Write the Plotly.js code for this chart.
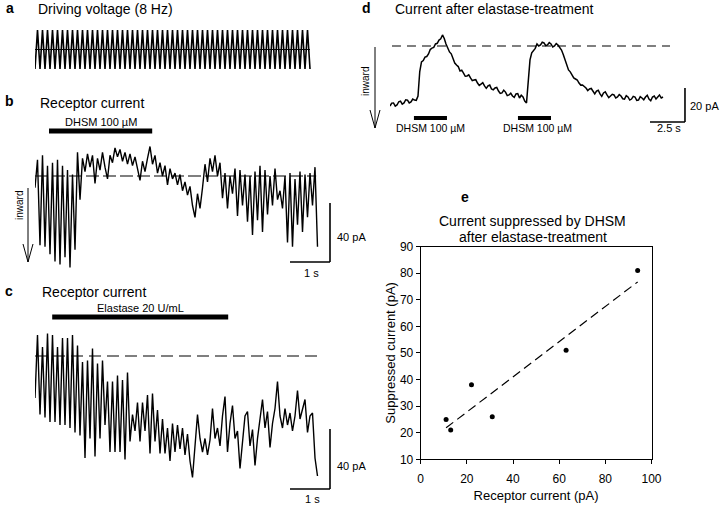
<!DOCTYPE html>
<html><head><meta charset="utf-8">
<script src="https://cdn.plot.ly/plotly-3.0.1.min.js"></script>
<style>html,body{margin:0;padding:0;background:#fff}#chart{width:720px;height:507px}</style>
</head><body><div id="chart"></div>
<script>
// ---- data ----
// a: driving voltage, normalised, one value per half cycle (8 Hz)
const drivingVoltage = [-1,1,-1,1,-1,1,-1,1,-1,1,-1,1,-1,1,-1,1,-1,1,-1,1,-1,1,-1,1,-1,1,-1,1,-1,1,-1,1,-1,1,-1,1,-1,1,-1,1,-1,1,-1,1,-1,1,-1,1,-1,1,-1,1,-1,1,-1,1,-1,1,-1,1,-1,1,-1,1,-1,1,-1,1,-1,1,-1,1,-1,1,-1,1,-1,1,-1,1,-1,1,-1,1,-1,1,-1,1,-1,1,-1,1,-1,1,-1,1,-1,1,-1,1,-1,1,-1,1,-1,1,-1,1,-1,1,-1];
// b: receptor current (pA, 0 = dashed line, inward = negative)
const receptorCurrentB = [-8,11,-47,14,-48,7,-53,9,-58,11,-60,7,-55,4,-62,1,-50,16,-16,
 12,3,15,6,14,-5,12,4,16,6,-2,14,9,19,13,18,10,16,8,15,7,13,4,-3,10,3,12,20,8,14,2,9,0,7,-6,5,-2,2,
 -6,1,-10,-4,-13,-7,-20,-28,-12,-22,-8,8,-4,12,3,14,0,9,-15,2,-22,0,-12,5,-27,4,-20,1,-31,0,-40,3,-30,7,-38,4,-26,0,-20,5,-16,-10,-22,0,-45,2,-48,-2,-33,3,-38,1,-28,2,-20,6,-48];
// c: receptor current during elastase (pA)
const receptorCurrentC = [-28,14,-39,6,-41,15,-44,14,-44,6,-46,12,-46,12,-48,14,-51,7,-53,-4,-68,-3,-55,5,-67,-5,-55,-3,-46,-17,-64,-17,-64,-13,-64,-16,-69,-11,-57,-39,-50,-31,-57,-31,-50,-26,-65,-25,-57,-36,-65,-42,-65,-48,-70,
 -45,-64,-46,-62,-48,-66,-52,-70,-81,-60,-39,-55,-64,-55,-66,-56,-35,-55,-48,-60,-40,-27,-64,-45,-33,-55,-50,-75,-55,-40,-37,-60,-49,-73,-55,-42,-29,-48,-37,-61,-45,-35,-17,-40,-48,-35,-46,-38,-50,-40,-23,-42,-35,-29,-51,-40,-38,-68,-80];
// d: current after elastase treatment (pA), every 0.125 s
const currentD = [-35.3,-33.6,-33.5,-35.4,-34.7,-32.8,-32.4,-34.2,-33.5,-31.6,-31.8,-33.5,-32.9,-31.2,-31.8,-32.0,-29.4,-15.0,-9.4,-8.6,
 -6.5,-6.2,-4.7,-2.1,-1.2,-0.8,1.2,1.6,3.5,4.2,6.5,4.4,1.2,-1.6,-3.5,-4.6,-7.1,-10.0,-11.2,-12.1,
 -14.7,-14.2,-15.9,-17.8,-17.6,-17.0,-18.8,-20.4,-20,-19.8,-21.8,-23.2,-22.4,-21.6,-23.5,-24.9,-23.5,-23.0,-25.3,-25.8,
 -24.7,-24.4,-26.5,-27.9,-27.6,-26.0,-27.1,-29.2,-28.8,-27.8,-29.4,-30.2,-28.2,-28.0,-30.6,-29.0,-30,-32.4,-33.5,-20.0,
 -8.2,-4.0,-2.4,-1.4,1.2,0.0,0.6,2.2,1.8,0.2,0.6,2.0,1.2,-0.6,0,1.4,0.6,-0.8,-2.4,-5.0,
 -8.2,-11.6,-14.1,-15.2,-17.1,-18.8,-19.4,-20.0,-21.8,-23.0,-22.9,-23.6,-24.7,-26.2,-25.3,-25.0,-27.1,-28.2,-26.5,-26.0,
 -28.2,-29.6,-27.6,-27.0,-28.8,-30.4,-29.4,-28.4,-28.8,-30.6,-30,-28.6,-29.4,-31.0,-31.2,-29.2,-30,-31.8,-31.2,-29.6,
 -30,-32.0,-31.8,-29.8,-30.6,-31.6,-30,-29.0,-31.2,-32.2,-30,-29.4,-31.2,-30.0,-28.8,-30.6,-30];
const sampleIntervalABC = 0.0625; // s
const sampleIntervalD = 0.125;    // s
// stimulus bars (s)
const dhsmBarB = [0.35, 2.93];
const elastaseBarC = [0.43, 4.83];
const dhsmBarsD = [[1.71, 4.07], [9.14, 11.5]];
// scale bars
const scaleB = {s: 1, pA: 40};
const scaleC = {s: 1, pA: 40};
const scaleD = {s: 2.5, pA: 20};
// e: scatter
const receptorCurrentE = [11, 13, 22, 31, 63, 94];
const suppressedCurrentE = [25, 21, 38, 26, 51, 81];
const xTicksE = [0, 20, 40, 60, 80, 100];
const yTicksE = [10, 20, 30, 40, 50, 60, 70, 80, 90];

// ---- helpers ----
const W = 720, H = 507;
const px = v => v / W;
const py = v => 1 - v / H;
const FONT = 'Liberation Sans, Arial, sans-serif';
const times = (arr, dt) => arr.map((_, i) => i * dt);

// regression for e
const n = receptorCurrentE.length;
const mx = receptorCurrentE.reduce((a, b) => a + b, 0) / n;
const my = suppressedCurrentE.reduce((a, b) => a + b, 0) / n;
let sxy = 0, sxx = 0;
for (let i = 0; i < n; i++) { sxy += (receptorCurrentE[i] - mx) * (suppressedCurrentE[i] - my); sxx += (receptorCurrentE[i] - mx) ** 2; }
const slope = sxy / sxx, icpt = my - slope * mx;
const fitX = [Math.min(...receptorCurrentE), Math.max(...receptorCurrentE)];
const fitY = fitX.map(x => icpt + slope * x);

const lineStyle = {color: '#000', width: 1.4};
const traces = [
  {x: times(drivingVoltage, sampleIntervalABC), y: drivingVoltage, xaxis: 'x', yaxis: 'y', mode: 'lines', line: {color: '#000', width: 1.6}},
  {x: times(receptorCurrentB, sampleIntervalABC), y: receptorCurrentB, xaxis: 'x2', yaxis: 'y2', mode: 'lines', line: lineStyle},
  {x: times(receptorCurrentC, sampleIntervalABC), y: receptorCurrentC, xaxis: 'x3', yaxis: 'y3', mode: 'lines', line: lineStyle},
  {x: times(currentD, sampleIntervalD), y: currentD, xaxis: 'x4', yaxis: 'y4', mode: 'lines', line: {color: '#000', width: 1.5}},
  {x: fitX, y: fitY, xaxis: 'x5', yaxis: 'y5', mode: 'lines', line: {color: '#000', width: 1.2, dash: '9px,5px'}},
  {x: receptorCurrentE, y: suppressedCurrentE, xaxis: 'x5', yaxis: 'y5', mode: 'markers', marker: {color: '#000', size: 5}}
];

const hidden = {visible: false, fixedrange: true};
const trEnd = arr => (arr.length - 1) * sampleIntervalABC;

const shapes = [];
// zero/reference lines
shapes.push({type: 'line', xref: 'x', yref: 'y', x0: 0, x1: trEnd(drivingVoltage), y0: 0, y1: 0, line: {color: '#000', width: 1}});
shapes.push({type: 'line', xref: 'x2', yref: 'y2', x0: 0, x1: 7.03, y0: 0, y1: 0, line: {color: '#000', width: 1.2, dash: '13px,4px'}});
shapes.push({type: 'line', xref: 'x3', yref: 'y3', x0: 0, x1: 7.07, y0: 0, y1: 0, line: {color: '#000', width: 1.2, dash: '12px,6px'}});
shapes.push({type: 'line', xref: 'x4', yref: 'y4', x0: 0.14, x1: 20.0, y0: 0, y1: 0, line: {color: '#000', width: 1.1, dash: '9px,6px'}});
// stimulus bars
shapes.push({type: 'line', xref: 'x2', yref: 'paper', x0: dhsmBarB[0], x1: dhsmBarB[1], y0: py(131), y1: py(131), line: {color: '#000', width: 5}});
shapes.push({type: 'line', xref: 'x3', yref: 'paper', x0: elastaseBarC[0], x1: elastaseBarC[1], y0: py(317), y1: py(317), line: {color: '#000', width: 5}});
dhsmBarsD.forEach(b => shapes.push({type: 'line', xref: 'x4', yref: 'paper', x0: b[0], x1: b[1], y0: py(118), y1: py(118), line: {color: '#000', width: 4}}));
// scale bars
function scaleBar(xr, yr, cx, cy, sc) {
  shapes.push({type: 'line', xref: xr, yref: yr, x0: cx - sc.s, x1: cx, y0: cy, y1: cy, line: {color: '#000', width: 1.6}});
  shapes.push({type: 'line', xref: xr, yref: yr, x0: cx, x1: cx, y0: cy, y1: cy + sc.pA, line: {color: '#000', width: 1.6}});
}
scaleBar('x2', 'y2', 7.375, -58.3, scaleB);
scaleBar('x3', 'y3', 7.375, -88.7, scaleC);
scaleBar('x4', 'y4', 21.07, -44.7, scaleD);
// inward arrows
function arrow(x, yTop, yBot) {
  shapes.push({type: 'path', xref: 'paper', yref: 'paper', line: {color: '#000', width: 1},
    path: `M ${px(x)} ${py(yTop)} L ${px(x)} ${py(yBot)} M ${px(x - 5)} ${py(yBot - 18)} L ${px(x)} ${py(yBot)} L ${px(x + 5)} ${py(yBot - 18)}`});
}
arrow(28, 188, 262);
arrow(375, 47, 128);

function ann(text, x, y, opts = {}) {
  return Object.assign({text, x: px(x), y: py(y), xref: 'paper', yref: 'paper', showarrow: false,
    xanchor: 'center', yanchor: 'middle', font: {family: FONT, size: 11, color: '#000'}}, opts);
}
const big = {family: FONT, size: 14, color: '#000'};
const annotations = [
  ann('<b>a</b>', 10, 8, {font: big}),
  ann('Driving voltage (8 Hz)', 36, 9, {xanchor: 'left', font: big}),
  ann('<b>b</b>', 9, 101, {font: big}),
  ann('Receptor current', 38, 103, {xanchor: 'left', font: big}),
  ann('DHSM 100 µM', 100.5, 122),
  ann('inward', 19, 206, {textangle: -90, font: {family: FONT, size: 10, color: '#000'}}),
  ann('40 pA', 335, 237, {xanchor: 'left'}),
  ann('1 s', 311, 273),
  ann('<b>c</b>', 9, 291, {font: big}),
  ann('Receptor current', 40, 292, {xanchor: 'left', font: big}),
  ann('Elastase 20 U/mL', 140, 308),
  ann('40 pA', 335, 466, {xanchor: 'left'}),
  ann('1 s', 312, 499),
  ann('<b>d</b>', 366, 8, {font: big}),
  ann('Current after elastase-treatment', 393, 9, {xanchor: 'left', font: big}),
  ann('inward', 366, 82, {textangle: -90, font: {family: FONT, size: 10, color: '#000'}}),
  ann('DHSM 100 µM', 430, 128, {font: {family: FONT, size: 10.5, color: '#000'}}),
  ann('DHSM 100 µM', 537, 128, {font: {family: FONT, size: 10.5, color: '#000'}}),
  ann('20 pA', 688, 106, {xanchor: 'left'}),
  ann('2.5 s', 669, 128),
  ann('<b>e</b>', 465, 197, {font: big}),
  ann('Current suppressed by DHSM', 532, 221, {font: big}),
  ann('after elastase-treatment', 533, 237, {font: big})
];

const axE = {showline: true, mirror: true, linecolor: '#000', linewidth: 1, ticks: 'outside', ticklen: 4, tickcolor: '#000',
  showgrid: false, zeroline: false, fixedrange: true, tickfont: {family: FONT, size: 12, color: '#000'}};

const layout = {
  width: W, height: H, margin: {l: 0, r: 0, t: 0, b: 0}, paper_bgcolor: '#fff', plot_bgcolor: 'rgba(0,0,0,0)',
  showlegend: false,
  xaxis: Object.assign({domain: [px(35), px(345)], range: [0, 7.75], anchor: 'y'}, hidden),
  yaxis: Object.assign({domain: [py(72), py(28)], range: [-1.154, 1.103], anchor: 'x'}, hidden),
  xaxis2: Object.assign({domain: [px(35), px(345)], range: [0, 7.75], anchor: 'y2'}, hidden),
  yaxis2: Object.assign({domain: [py(275), py(140)], range: [-67.1, 24.4], anchor: 'x2'}, hidden),
  xaxis3: Object.assign({domain: [px(35), px(345)], range: [0, 7.75], anchor: 'y3'}, hidden),
  yaxis3: Object.assign({domain: [py(500), py(325)], range: [-96, 20.67], anchor: 'x3'}, hidden),
  xaxis4: Object.assign({domain: [px(390), px(690)], range: [0, 300 / 14], anchor: 'y4'}, hidden),
  yaxis4: Object.assign({domain: [py(130), py(30)], range: [(46 - 130) / 1.7, (46 - 30) / 1.7], anchor: 'x4'}, hidden),
  xaxis5: Object.assign({domain: [px(420.7), px(651.5)], range: [0, 100], anchor: 'y5', tickvals: xTicksE, ticklabelstandoff: 4,
    title: {text: 'Receptor current (pA)', font: {family: FONT, size: 13, color: '#000'}, standoff: 6}}, axE),
  yaxis5: Object.assign({domain: [py(459.3), py(246.5)], range: [10, 90], anchor: 'x5', tickvals: yTicksE,
    title: {text: 'Suppressed current (pA)', font: {family: FONT, size: 13, color: '#000'}, standoff: 1}}, axE),
  shapes, annotations
};

Plotly.newPlot('chart', traces, layout, {staticPlot: true, displayModeBar: false});
</script>
</body></html>
